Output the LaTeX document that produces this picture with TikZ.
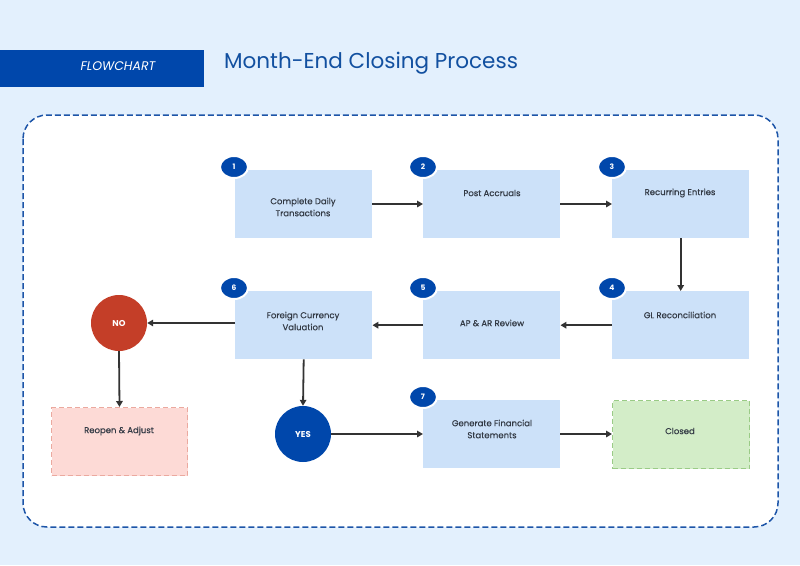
\documentclass[tikz,border=0pt]{standalone}
\usepackage{fontspec}
\setmainfont{Poppins}
\usetikzlibrary{arrows.meta,shapes.geometric}
\definecolor{bgblue}{HTML}{E3F0FD}
\definecolor{navy}{HTML}{0047AB}
\definecolor{titleblue}{HTML}{1250A0}
\definecolor{boxblue}{HTML}{CCE1F9}
\definecolor{txt}{HTML}{333A45}
\definecolor{arr}{HTML}{333333}
\definecolor{nored}{HTML}{C43E28}
\definecolor{greenfill}{HTML}{D3EDC8}
\definecolor{greenline}{HTML}{9ACB86}
\definecolor{pinkfill}{HTML}{FDDAD6}
\definecolor{pinkline}{HTML}{EBA99F}
\definecolor{frame}{HTML}{1D55A8}
\tikzset{
  stepbox/.style={fill=boxblue, draw=none, minimum width=137pt, minimum height=68pt, inner sep=0pt},
  lbl/.style={font=\fontsize{8.5}{12}\selectfont\addfontfeature{FakeBold=0.5}, text=txt, align=center},
  badge/.style={ellipse, fill=navy, draw=white, line width=2pt, minimum width=28pt, minimum height=22pt, inner sep=0pt, font=\fontsize{7.5}{7.5}\selectfont\bfseries, text=white},
  flow/.style={draw=arr, line width=1.8pt, -{Triangle[length=6pt,width=6.5pt]}},
  decision/.style={circle, minimum size=56pt, inner sep=0pt, font=\fontsize{8.5}{8.5}\selectfont\bfseries, text=white}
}
\begin{document}
\begin{tikzpicture}[x=1pt,y=-1pt]
\fill[bgblue] (0,0) rectangle (800,565);
\useasboundingbox (0,0) rectangle (800,565);
% header
\node[fill=navy, minimum width=204pt, minimum height=37pt, inner sep=0pt, anchor=north west] (banner) at (0,50) {};
\node[font=\fontsize{12.5}{12.5}\selectfont\itshape, text=white] (bannertxt) at (118,66) {FLOWCHART};
\node[font=\fontsize{21.5}{21.5}\selectfont, text=titleblue, anchor=west, inner sep=0pt] (title) at (224,63) {Month-End Closing Process};
% container
\draw[frame, fill=white, line width=1.5pt, dash pattern=on 6pt off 3pt, rounded corners=24pt] (23,115) rectangle (778,527);
% boxes
\node[stepbox, anchor=north west] (b1) at (235,170) {};
\node[stepbox, anchor=north west] (b2) at (423,170) {};
\node[stepbox, anchor=north west] (b3) at (612,170) {};
\node[stepbox, anchor=north west] (b4) at (612,291) {};
\node[stepbox, anchor=north west] (b5) at (423,291) {};
\node[stepbox, anchor=north west] (b6) at (235,291) {};
\node[stepbox, anchor=north west] (b7) at (423,400) {};
\node[stepbox, anchor=north west, fill=greenfill, draw=greenline, line width=1pt, dash pattern=on 5pt off 3pt] (closed) at (612,400) {};
\node[stepbox, anchor=north west, fill=pinkfill, draw=pinkline, line width=1pt, dash pattern=on 5pt off 3pt, minimum width=136pt] (reopen) at (51,407) {};
% labels
\node[lbl] (t1) at (303,207) {Complete Daily\\Transactions};
\node[lbl] (t2) at (492,193) {Post Accruals};
\node[lbl] (t3) at (680,193) {Recurring Entries};
\node[lbl] (t4) at (680,315) {GL Reconciliation};
\node[lbl] (t5) at (492,323) {AP \& AR Review};
\node[lbl] (t6) at (303,321) {Foreign Currency\\Valuation};
\node[lbl] (t7) at (492,429) {Generate Financial\\Statements};
\node[lbl] (tc) at (680,431) {Closed};
\node[lbl] (tr) at (119,431) {Reopen \& Adjust};
% decisions
\node[decision, fill=nored] (no) at (119,323) {NO};
\node[decision, fill=navy] (yes) at (303,434) {YES};
% badges
\node[badge] (n1) at (234,167) {1};
\node[badge] (n2) at (423,167) {2};
\node[badge] (n3) at (612,167) {3};
\node[badge] (n4) at (612,288) {4};
\node[badge] (n5) at (423,288) {5};
\node[badge] (n6) at (234,288) {6};
\node[badge] (n7) at (423,397) {7};
% connectors
\draw[flow] (b1.east |- 0,204) -- (b2.west |- 0,204);
\draw[flow] (b2.east |- 0,204) -- (b3.west |- 0,204);
\draw[flow] (b3.south) -- (b4.north);
\draw[flow] (b4.west) -- (b5.east);
\draw[flow] (b5.west) -- (b6.east);
\draw[flow] (b6.west |- no.east) -- (no.east);
\draw[flow] (no.south) -- (reopen.north);
\draw[flow] (b6.south) -- (yes.north);
\draw[flow] (yes.east) -- (b7.west |- yes.east);
\draw[flow] (b7.east |- yes.east) -- (closed.west |- yes.east);
\end{tikzpicture}
\end{document}
